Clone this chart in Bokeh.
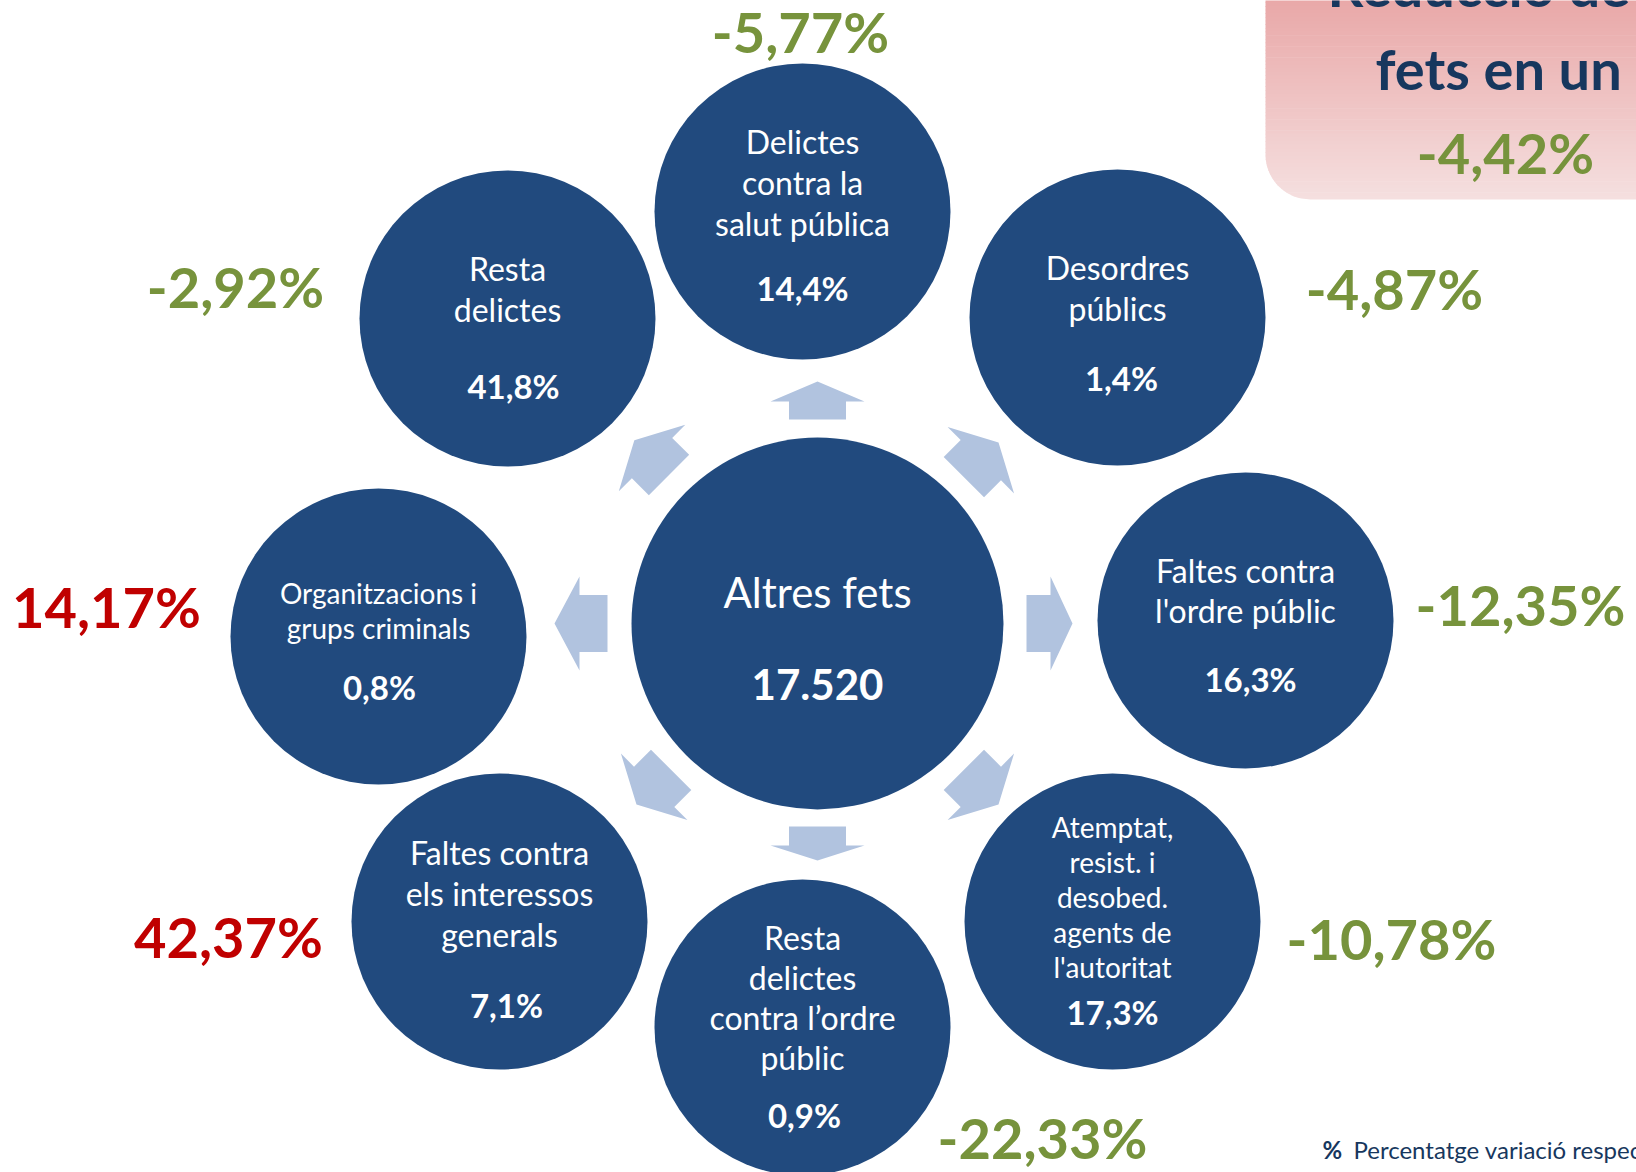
import math
from bokeh.plotting import figure
from bokeh.models import Range1d, ColumnDataSource
from bokeh.core.properties import value
from bokeh.embed import file_html
from bokeh.resources import INLINE

# ---------------- data ----------------
categories = [
    "Delictes contra la salut pública",
    "Desordres públics",
    "Faltes contra l'ordre públic",
    "Atemptat, resist. i desobed. agents de l'autoritat",
    "Resta delictes contra l’ordre públic",
    "Faltes contra els interessos generals",
    "Organitzacions i grups criminals",
    "Resta delictes",
]
label_lines = [
    ["Delictes", "contra la", "salut pública"],
    ["Desordres", "públics"],
    ["Faltes contra", "l'ordre públic"],
    ["Atemptat,", "resist. i", "desobed.", "agents de", "l'autoritat"],
    ["Resta", "delictes", "contra l’ordre", "públic"],
    ["Faltes contra", "els interessos", "generals"],
    ["Organitzacions i", "grups criminals"],
    ["Resta", "delictes"],
]
share_pct = [14.4, 1.4, 16.3, 17.3, 0.9, 7.1, 0.8, 41.8]
change_pct = [-5.77, -4.87, -12.35, -10.78, -22.33, 42.37, 14.17, -2.92]
total_label = "Altres fets"
total_value = 17520
total_change = -4.42
headline = ["Reducció de", "fets en un"]
legend_mark = "%"
legend_text = "Percentatge variació respecte a l'any anterior"

# ---------------- layout (page pixels) ----------------
CX, CY, CENTER_R = 817, 623, 186
NODE_R = 148
node_x = [802, 1117, 1245, 1112, 802, 499, 378, 507]
node_y = [211, 317, 620, 921, 1027, 921, 636, 318]
label_first = [-58, -38, -38, -84, -78, -57, -33, -38]
label_step = [41, 41, 40, 35, 40, 41, 35, 41]
label_size = [32, 32, 32, 28, 32, 32, 28, 32]
pct_dx = [0, 4, 5, 0, 2, 7, 1, 6]
pct_dy = [89, 73, 71, 103, 100, 96, 63, 80]
chg_x = [800, 1394, 1520, 1391, 1042, 228, 106, 235]
chg_y = [52, 309, 625, 959, 1158, 957, 627, 307]

arrow_angle = [0, 45, 90, 135, 180, 225, 270, 315]
arrow_r0 = [209, 207, 203, 207, 210, 210, 204, 207]
arrow_shaft = [24, 24, 19, 24, 28, 24, 18, 24]
arrow_head = [22, 25, 15, 25, 25, 25, 20, 25]
SHAFT_W, HEAD_W = 57, 94

NAVY = "#214A7E"
ARROW = "#B1C3DF"
GREEN = "#77933C"
RED = "#C00000"
DARK = "#17375E"
FONT = value("Lato")
BASE_FIX = 0.38  # baseline correction (fraction of font size)

W, H = 1636, 1172
p = figure(width=W, height=H, output_backend="svg", toolbar_location=None,
           x_range=Range1d(0, W), y_range=Range1d(H, 0),
           min_border=0, outline_line_color=None, background_fill_color="white")
p.axis.visible = False
p.grid.visible = False


def fmt(v, d):
    return f"{v:.{d}f}".replace(".", ",") + "%"


def by(y, size):
    return y - BASE_FIX * size


# ---------------- pink headline box with vertical gradient ----------------
BOX_L, BOX_B, BOX_R, BOX_T, RAD = 1265, 199, 1660, -20, 45
top_col = (233, 168, 168)
bot_col = (245, 224, 224)
nb = 60
bxs, bys, bcols = [], [], []


def left_edge(y):
    yc = BOX_B - RAD
    if y <= yc:
        return BOX_L
    dy = min(y - yc, RAD)
    return BOX_L + RAD - math.sqrt(max(RAD * RAD - dy * dy, 0))


for i in range(nb):
    ya = BOX_T + (BOX_B - BOX_T) * i / nb
    yb = BOX_T + (BOX_B - BOX_T) * (i + 1) / nb + 0.6
    yb = min(yb, BOX_B)
    ys_edge = [ya + (yb - ya) * k / 4 for k in range(5)]
    xs = [left_edge(y) for y in ys_edge] + [BOX_R, BOX_R]
    ys = ys_edge + [yb, ya]
    t = max(0.0, min(1.0, (ya - 0) / (BOX_B - 0)))
    c = tuple(int(round(top_col[j] + (bot_col[j] - top_col[j]) * t)) for j in range(3))
    bxs.append(xs)
    bys.append(ys)
    bcols.append("#%02x%02x%02x" % c)
p.patches(bxs, bys, fill_color=bcols, line_color=None)

p.text(x=[1327, 1375], y=[by(6, 56), by(89, 56)], text=headline, text_font=FONT,
       text_font_size="56px", text_font_style="bold", text_color=DARK, text_align="left",
       text_baseline="alphabetic")
p.text(x=[1505], y=[by(173, 56)], text=[fmt(total_change, 2)], text_font=FONT,
       text_font_size="56px", text_font_style="bold",
       text_color=GREEN if total_change < 0 else RED,
       text_align="center", text_baseline="alphabetic")

# ---------------- arrows ----------------
axs, ays = [], []
for ang, r0, sl, hl in zip(arrow_angle, arrow_r0, arrow_shaft, arrow_head):
    a = math.radians(ang)
    ux, uy = math.cos(a), math.sin(a)
    vx, vy = -uy, ux

    def pt(r, w):
        return (CX + ux * r + vx * w, CY + uy * r + vy * w)

    r1 = r0 + sl
    pts = [pt(r0, -SHAFT_W / 2), pt(r1, -SHAFT_W / 2), pt(r1, -HEAD_W / 2), pt(r1 + hl, 0),
           pt(r1, HEAD_W / 2), pt(r1, SHAFT_W / 2), pt(r0, SHAFT_W / 2)]
    axs.append([q[0] for q in pts])
    ays.append([q[1] for q in pts])
p.patches(axs, ays, fill_color=ARROW, line_color=None)

# ---------------- circles ----------------
p.circle(x=[CX], y=[CY], radius=CENTER_R, fill_color=NAVY, line_color=None)
p.circle(x=node_x, y=node_y, radius=NODE_R, fill_color=NAVY, line_color=None)

p.text(x=[CX], y=[by(607, 42)], text=[total_label], text_font=FONT, text_font_size="42px",
       text_color="white", text_align="center", text_baseline="alphabetic")
p.text(x=[CX], y=[by(700, 42)], text=[f"{total_value:,}".replace(",", ".")], text_font=FONT,
       text_font_size="42px", text_font_style="bold", text_color="white",
       text_align="center", text_baseline="alphabetic")

# node labels
for size in sorted(set(label_size)):
    lx, ly, lt = [], [], []
    for i, lines in enumerate(label_lines):
        if label_size[i] != size:
            continue
        for k, line in enumerate(lines):
            lx.append(node_x[i])
            ly.append(by(node_y[i] + label_first[i] + k * label_step[i], size))
            lt.append(line)
    p.text(x=lx, y=ly, text=lt, text_font=FONT, text_font_size=f"{size}px",
           text_color="white", text_align="center", text_baseline="alphabetic")

p.text(x=[node_x[i] + pct_dx[i] for i in range(8)],
       y=[by(node_y[i] + pct_dy[i], 33) for i in range(8)],
       text=[fmt(v, 1) for v in share_pct], text_font=FONT, text_font_size="33px",
       text_font_style="bold", text_color="white", text_align="center",
       text_baseline="alphabetic")

# change labels
chg_src = ColumnDataSource(dict(
    x=chg_x, y=[by(v, 56) for v in chg_y], t=[fmt(v, 2) for v in change_pct],
    c=[GREEN if v < 0 else RED for v in change_pct]))
p.text(x="x", y="y", text="t", text_color="c", source=chg_src, text_font=FONT,
       text_font_size="56px", text_font_style="bold", text_align="center",
       text_baseline="alphabetic")

# legend note
p.text(x=[1322], y=[by(1158, 24)], text=[legend_mark], text_font=FONT, text_font_size="24px",
       text_font_style="bold", text_color=DARK, text_align="left", text_baseline="alphabetic")
p.text(x=[1353], y=[by(1158, 24)], text=[legend_text], text_font=FONT, text_font_size="24px",
       text_color=DARK, text_align="left", text_baseline="alphabetic")

open("out.html", "w").write(file_html(p, INLINE))
